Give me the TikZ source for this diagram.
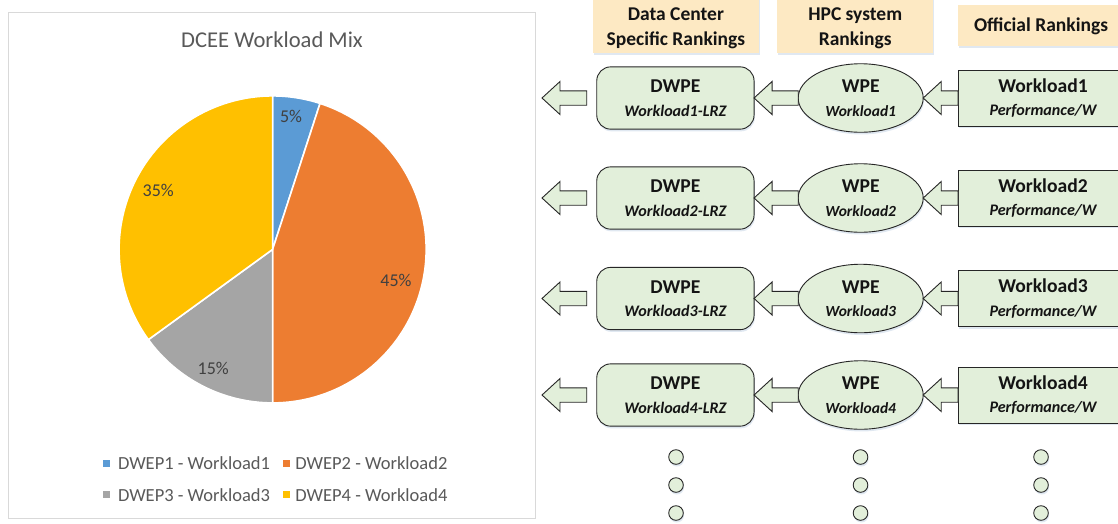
\documentclass[tikz,border=0pt]{standalone}
\usepackage{fontspec}
\setmainfont{Carlito}
\usetikzlibrary{calc,shadows,shapes.geometric}

\definecolor{boxgreen}{HTML}{E2EFDA}
\definecolor{boxline}{HTML}{262626}
\definecolor{headfill}{HTML}{FDE9C3}
\definecolor{shadowblue}{HTML}{D3DFEC}
\definecolor{pieblue}{HTML}{5B9BD5}
\definecolor{pieorange}{HTML}{ED7D31}
\definecolor{piegray}{HTML}{A5A5A5}
\definecolor{pieyellow}{HTML}{FFC000}
\definecolor{charttext}{HTML}{595959}
\definecolor{labeltext}{HTML}{404040}
\definecolor{frameline}{HTML}{D9D9D9}
\definecolor{flowtext}{HTML}{141414}

% italic second line inside the flow shapes
\newcommand\subfont{\fontsize{16.1}{23.5}\selectfont\bfseries\itshape}
\newcommand\wpesubfont{\fontsize{15.5}{23.5}\selectfont\bfseries\itshape}

% hollow block arrow: #1 = tail, #2 = tip (tip on the left)
\newcommand\flowarrow[2]{%
  \draw[flowarrowshape] let \p1=(#1), \p2=(#2) in
    (\x2,\y2) -- (\x2+18pt,\y2+16.5pt) -- (\x2+18pt,\y2+7.2pt) -- (\x1,\y2+7.2pt)
    -- (\x1,\y2-7.2pt) -- (\x2+18pt,\y2-7.2pt) -- (\x2+18pt,\y2-16.5pt) -- cycle;}

\begin{document}
\begin{tikzpicture}[x=1pt,y=-1pt,
  softshadow/.style={drop shadow={shadow xshift=0.8pt,shadow yshift=-2.2pt,fill=shadowblue,opacity=0.7}},
  headbox/.style={rectangle,fill=headfill,draw=none,inner sep=0pt,outer sep=0pt,softshadow},
  headtext/.style={align=center,text=flowtext,font=\fontsize{19.5}{25}\selectfont\bfseries},
  dwpebox/.style={rectangle,rounded corners=14pt,draw=boxline,fill=boxgreen,line width=0.9pt,
    minimum width=157.3pt,minimum height=62.3pt,inner sep=0pt,outer sep=0pt,softshadow,
    align=center,text=flowtext,font=\fontsize{19.6}{23.5}\selectfont\bfseries},
  wpeshape/.style={ellipse,draw=boxline,fill=boxgreen,line width=0.9pt,
    minimum width=125pt,minimum height=68.5pt,inner sep=0pt,outer sep=0pt,softshadow,
    align=center,text=flowtext,font=\fontsize{19.6}{23.5}\selectfont\bfseries},
  wlbox/.style={rectangle,draw=boxline,fill=boxgreen,line width=0.9pt,
    minimum width=170pt,minimum height=56pt,inner sep=0pt,outer sep=0pt,softshadow,
    align=center,text=flowtext,font=\fontsize{19.6}{23.5}\selectfont\bfseries},
  flowarrowshape/.style={draw=boxline,fill=boxgreen,line width=0.9pt,line join=miter},
  dotnode/.style={circle,draw=boxline,fill=boxgreen,line width=0.9pt,minimum size=14.6pt,
    inner sep=0pt,outer sep=0pt,softshadow},
  pctlabel/.style={text=labeltext,font=\fontsize{18}{20}\selectfont,inner sep=0pt},
  legendtext/.style={text=charttext,font=\fontsize{18.5}{20}\selectfont,anchor=west,inner sep=0pt},
  legendmark/.style={rectangle,minimum size=7pt,inner sep=0pt},
  slice/.style={draw=white,line width=1.6pt,line join=round}]

\useasboundingbox (0,0) rectangle (1118,523);
\begin{scope}
\clip (0,0) rectangle (1118,523);
\fill[white] (0,0) rectangle (1118,523);

% ---------------- pie chart ----------------
\draw[frameline,line width=1pt] (8.6,12.7) rectangle (535.5,518.8);
\node[text=charttext,font=\fontsize{22.6}{24}\selectfont] (title) at (272,39.6) {DCEE Workload Mix};

\coordinate (pc) at (272.6,249.4);
\def\pr{153.5pt}
\filldraw[slice,fill=pieblue]   (pc) -- ++(90:\pr)   arc[start angle=90,end angle=72,radius=\pr] -- cycle;
\filldraw[slice,fill=pieorange] (pc) -- ++(72:\pr)   arc[start angle=72,end angle=-90,radius=\pr] -- cycle;
\filldraw[slice,fill=piegray]   (pc) -- ++(-90:\pr)  arc[start angle=-90,end angle=-144,radius=\pr] -- cycle;
\filldraw[slice,fill=pieyellow] (pc) -- ++(-144:\pr) arc[start angle=-144,end angle=-270,radius=\pr] -- cycle;

\node[pctlabel] (p5)  at (291,116.7) {5\%};
\node[pctlabel] (p45) at (396,280)   {45\%};
\node[pctlabel] (p15) at (213.3,368.3) {15\%};
\node[pctlabel] (p35) at (158.3,190) {35\%};

\node[legendmark,fill=pieblue]   (m1) at (106.7,463.4) {};
\node[legendtext] (l1) at (117.8,463.4) {DWEP1 - Workload1};
\node[legendmark,fill=pieorange] (m2) at (286.5,463.4) {};
\node[legendtext] (l2) at (295.2,463.4) {DWEP2 - Workload2};
\node[legendmark,fill=piegray]   (m3) at (106.7,494.7) {};
\node[legendtext] (l3) at (117.8,494.7) {DWEP3 - Workload3};
\node[legendmark,fill=pieyellow] (m4) at (286.5,494.7) {};
\node[legendtext] (l4) at (295.2,494.7) {DWEP4 - Workload4};

% ---------------- ranking headers ----------------
\node[headbox,minimum width=166.3pt,minimum height=60pt] (hb1) at (675.9,23) {};
\node[headtext] (ht1) at (675.9,28.5) {Data Center\\Specific Rankings};
\node[headbox,minimum width=156.3pt,minimum height=60pt] (hb2) at (855.2,23) {};
\node[headtext] (ht2) at (855.2,28.5) {HPC system\\Rankings};
\node[headbox,minimum width=170pt,minimum height=41pt] (hb3) at (1043.3,25.5) {};
\node[headtext] (ht3) at (1041,26.5) {Official Rankings};

% ---------------- workload rows ----------------
\foreach \i/\ry in {1/98,2/198,3/298.5,4/395}{
  \node[dwpebox]  (dw\i) at (675.4,\ry) {DWPE\\{\subfont Workload\i-LRZ}};
  \node[wpeshape] (wp\i) at (860.7,\ry) {WPE\\{\wpesubfont Workload\i}};
  \node[wlbox]    (wl\i) at (1043,\ry)  {Workload\i\\{\subfont Performance/W}};
  \coordinate (out\i) at (542,\ry);
  \flowarrow{wl\i.west}{wp\i.east}
  \flowarrow{wp\i.west}{dw\i.east}
  \flowarrow{$(dw\i.west)+(-10,0)$}{out\i}
}

% ---------------- continuation dots ----------------
\foreach \c/\cx in {a/676,b/860.5,c/1041}{
  \foreach \r/\dy in {1/457,2/485,3/513}{
    \node[dotnode] (dot\c\r) at (\cx,\dy) {};
  }
}
\end{scope}
\end{tikzpicture}
\end{document}
